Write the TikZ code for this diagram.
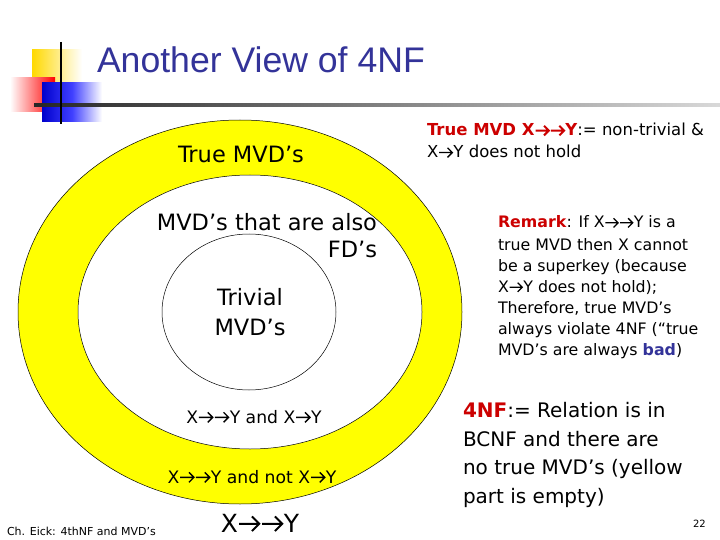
\documentclass[tikz,border=0pt]{standalone}
\usepackage{fontspec}
\setmainfont{DejaVu Sans}
\newfontfamily\titlefont{Liberation Sans}
\newfontfamily\comicfont{DejaVu Sans}
\definecolor{navy}{RGB}{51,51,153}
\definecolor{tred}{RGB}{204,0,0}
\definecolor{ryellow}{RGB}{255,255,0}
\newcommand\myfs[1]{\fontsize{#1}{#1}\selectfont}
\newcommand\rarw[1]{\tikz[baseline=0pt,x=1em,y=1em]{\path (0,0) rectangle (0.92,0.1);\draw[line width=#1em,line join=miter] (0.05,0.33)--(0.85,0.33) (0.56,0.04)--(0.85,0.33)--(0.56,0.62);}}
\newcommand\rar{\rarw{0.08}}
\newcommand\rarb{\rarw{0.12}}
\begin{document}
\begin{tikzpicture}[x=1pt,y=-1pt,
  txt/.style={anchor=base west,inner sep=0pt,outer sep=0pt},
  ctxt/.style={anchor=base,inner sep=0pt,outer sep=0pt,font=\comicfont},
  rtxt/.style={anchor=base east,inner sep=0pt,outer sep=0pt,font=\comicfont},
  ring/.style={draw=black,line width=0.5pt}]
\useasboundingbox[fill=white] (0,0) rectangle (720,540);
% decoration
\shade[left color=ryellow!70!orange,right color=white] (32,50) rectangle (82,83);
\shade[left color=white,right color=red] (10,78) rectangle (55,112);
\shade[left color=blue!80!black,right color=white,middle color=blue!75] (42,83) rectangle (102,122);
\shade[left color=black!85,right color=black!15] (34,103.5) rectangle (720,106.5);
\draw[line width=2.5pt] (61,42) -- (61,124);
% title
\node[txt,text=navy,font=\titlefont\myfs{35.6}] (title) at (97,73) {Another View of 4NF};
% rings
\draw[ring,fill=ryellow] (240,312) ellipse [x radius=222, y radius=192];
\draw[ring,fill=white] (250,312) ellipse [x radius=172, y radius=137];
\draw[ring,fill=white] (249,312) ellipse [x radius=87, y radius=78];
% ring labels
\node[ctxt,font=\comicfont\myfs{22.5}] (truemvd) at (241,163) {True MVD’s};
\node[rtxt,font=\comicfont\myfs{22.5}] (alsoA) at (377,230) {MVD’s that are also};
\node[rtxt,font=\comicfont\myfs{22.5}] (alsoB) at (377,258) {FD’s};
\node[ctxt,font=\comicfont\myfs{22.5}] (trivA) at (250,305) {Trivial};
\node[ctxt,font=\comicfont\myfs{22.5}] (trivB) at (250,335) {MVD’s};
\node[ctxt,font=\comicfont\myfs{17.2}] (andfd) at (254,423) {X\rar\rar Y and X\rar Y};
\node[ctxt,font=\comicfont\myfs{17.2}] (andnot) at (252,483) {X\rar\rar Y and not X\rar Y};
\node[ctxt,font=\comicfont\myfs{25}] (mvd) at (260,532) {X\rar\rar Y};
% right texts
\node[txt,font=\myfs{16.5}] (defA) at (427,136) {\textcolor{tred}{\textbf{True MVD X\rarb\rarb Y}}:= non-trivial \&};
\node[txt,font=\myfs{16.5}] (defB) at (427,158) {X\rar Y does not hold};
\node[txt,font=\myfs{15.8}] (remA) at (498,228) {\textcolor{tred}{\textbf{Remark}}: If X\rar\rar Y is a};
\node[txt,font=\myfs{15.8}] (remB) at (498,250) {true MVD then X cannot};
\node[txt,font=\myfs{15.8}] (remC) at (498,271.5) {be a superkey (because};
\node[txt,font=\myfs{15.8}] (remD) at (498,292.5) {X\rar Y does not hold);};
\node[txt,font=\myfs{15.8}] (remE) at (498,313) {Therefore, true MVD’s};
\node[txt,font=\myfs{15.8}] (remF) at (498,334) {always violate 4NF (“true};
\node[txt,font=\myfs{15.8}] (remG) at (498,355) {MVD’s are always \textcolor{navy}{\textbf{bad}})};
\node[txt,font=\myfs{20}] (nfA) at (463,417) {\textcolor{tred}{\textbf{4NF}}:= Relation is in};
\node[txt,font=\myfs{20}] (nfB) at (463,446) {BCNF and there are};
\node[txt,font=\myfs{20}] (nfC) at (463,474.5) {no true MVD’s (yellow};
\node[txt,font=\myfs{20}] (nfD) at (463,503) {part is empty)};
% footer
\node[txt,font=\myfs{11}] (foot) at (7,535) {Ch. Eick: 4thNF and MVD’s};
\node[anchor=base east,inner sep=0pt,font=\myfs{10}] (page) at (706,527) {22};
\end{tikzpicture}
\end{document}
